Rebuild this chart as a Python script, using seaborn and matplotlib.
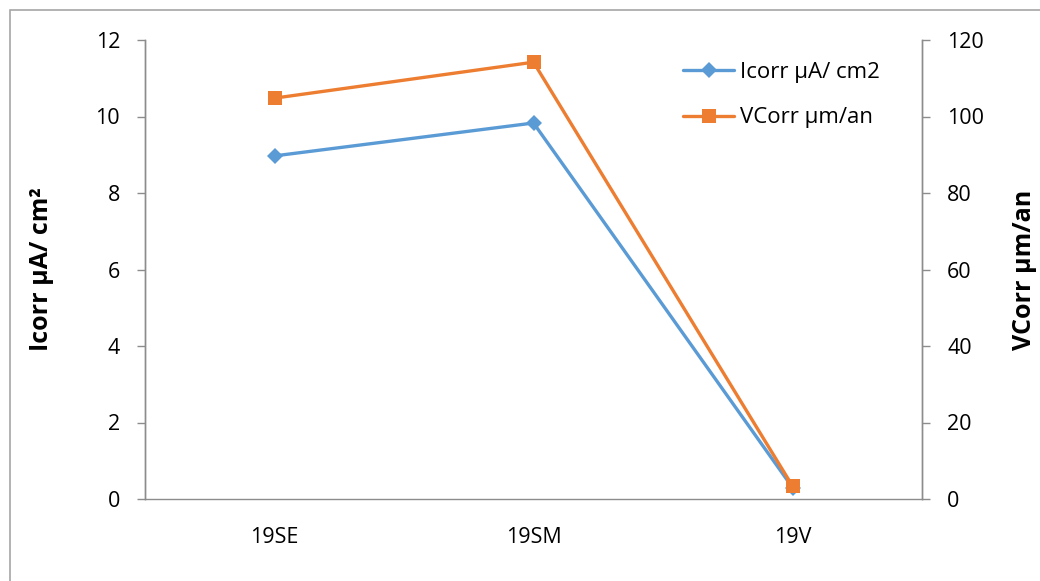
import matplotlib
matplotlib.use("Agg")
import matplotlib.pyplot as plt
from matplotlib.patches import Rectangle
from matplotlib.lines import Line2D
import seaborn as sns
import pandas as pd

# Data
samples = ["19SE", "19SM", "19V"]
icorr = [8.97, 9.83, 0.30]       # µA/cm²
vcorr = [104.8, 114.2, 3.4]      # µm/an

sns.set_theme(style="white")
plt.rcParams["font.family"] = ["Open Sans", "DejaVu Sans"]
plt.rcParams["text.color"] = "black"
plt.rcParams["axes.labelcolor"] = "black"
plt.rcParams["xtick.color"] = "black"
plt.rcParams["ytick.color"] = "black"

blue = "#5B9BD5"
orange = "#ED7D31"
grey = "#8C8C8C"

df = pd.DataFrame({"sample": samples, "icorr": icorr, "vcorr": vcorr})
df["pos"] = range(len(samples))

fig = plt.figure(figsize=(10.4, 5.81), dpi=100)
ax = fig.add_axes([145 / 1040, 1 - 499 / 581, 777 / 1040, 459 / 581])
ax2 = ax.twinx()

sns.lineplot(data=df, x="pos", y="icorr", ax=ax, color=blue, lw=2.4,
             marker="D", markersize=8, markeredgewidth=0, label="Icorr µA/ cm2",
             legend=False)
sns.lineplot(data=df, x="pos", y="vcorr", ax=ax2, color=orange, lw=2.4,
             marker="s", markersize=9.5, markeredgewidth=0, label="VCorr µm/an",
             legend=False)

ax.set_xlim(-0.5, len(samples) - 0.5)
ax.set_ylim(0, 12)
ax2.set_ylim(0, 120)
ax.set_yticks(range(0, 13, 2))
ax2.set_yticks(range(0, 121, 20))
ax.set_xticks(range(len(samples)))
ax.set_xticklabels(samples)
ax.set_xticks([i - 0.5 for i in range(len(samples) + 1)], minor=True)

tick_font = 15.5
ax.tick_params(axis="x", which="major", length=0, pad=20, labelsize=tick_font,
               labelcolor="black")
ax.tick_params(axis="x", which="minor", length=6, color=grey, width=1, direction="out")
ax.tick_params(axis="y", length=6, color=grey, width=1, direction="out",
               labelsize=tick_font, pad=12, labelcolor="black")
ax2.tick_params(axis="y", length=6, color=grey, width=1, direction="out",
                labelsize=tick_font, pad=12, labelcolor="black")

for a in (ax, ax2):
    a.grid(False)
    a.spines["top"].set_visible(False)
    for s in ("left", "right", "bottom"):
        a.spines[s].set_color(grey)
        a.spines[s].set_linewidth(1)
ax2.spines["bottom"].set_visible(False)

ax.set_xlabel("")
ax.set_ylabel("Icorr µA/ cm²", fontsize=18, fontweight="bold", labelpad=30,
              color="black")
ax2.set_ylabel("VCorr µm/an", fontsize=18, fontweight="bold", labelpad=20,
               color="black")

handles = [
    Line2D([], [], color=blue, lw=2.4, marker="D", markersize=8, markeredgewidth=0),
    Line2D([], [], color=orange, lw=2.4, marker="s", markersize=9.5, markeredgewidth=0),
]
ax2.legend(handles, ["Icorr µA/ cm2", "VCorr µm/an"], loc="upper left",
           bbox_to_anchor=((683 - 145) / 777, (499 - 62) / 459),
           frameon=False, fontsize=16, borderpad=0, borderaxespad=0,
           handlelength=2.3, handletextpad=0.25, labelspacing=1.1)

# chart area border
fig.patches.append(Rectangle((10 / 1040, -0.1), 1.2, 1 - 10 / 581 + 0.1,
                             transform=fig.transFigure, fill=False,
                             edgecolor="#A6A6A6", lw=1.2))

fig.savefig("out.png", dpi=100)
